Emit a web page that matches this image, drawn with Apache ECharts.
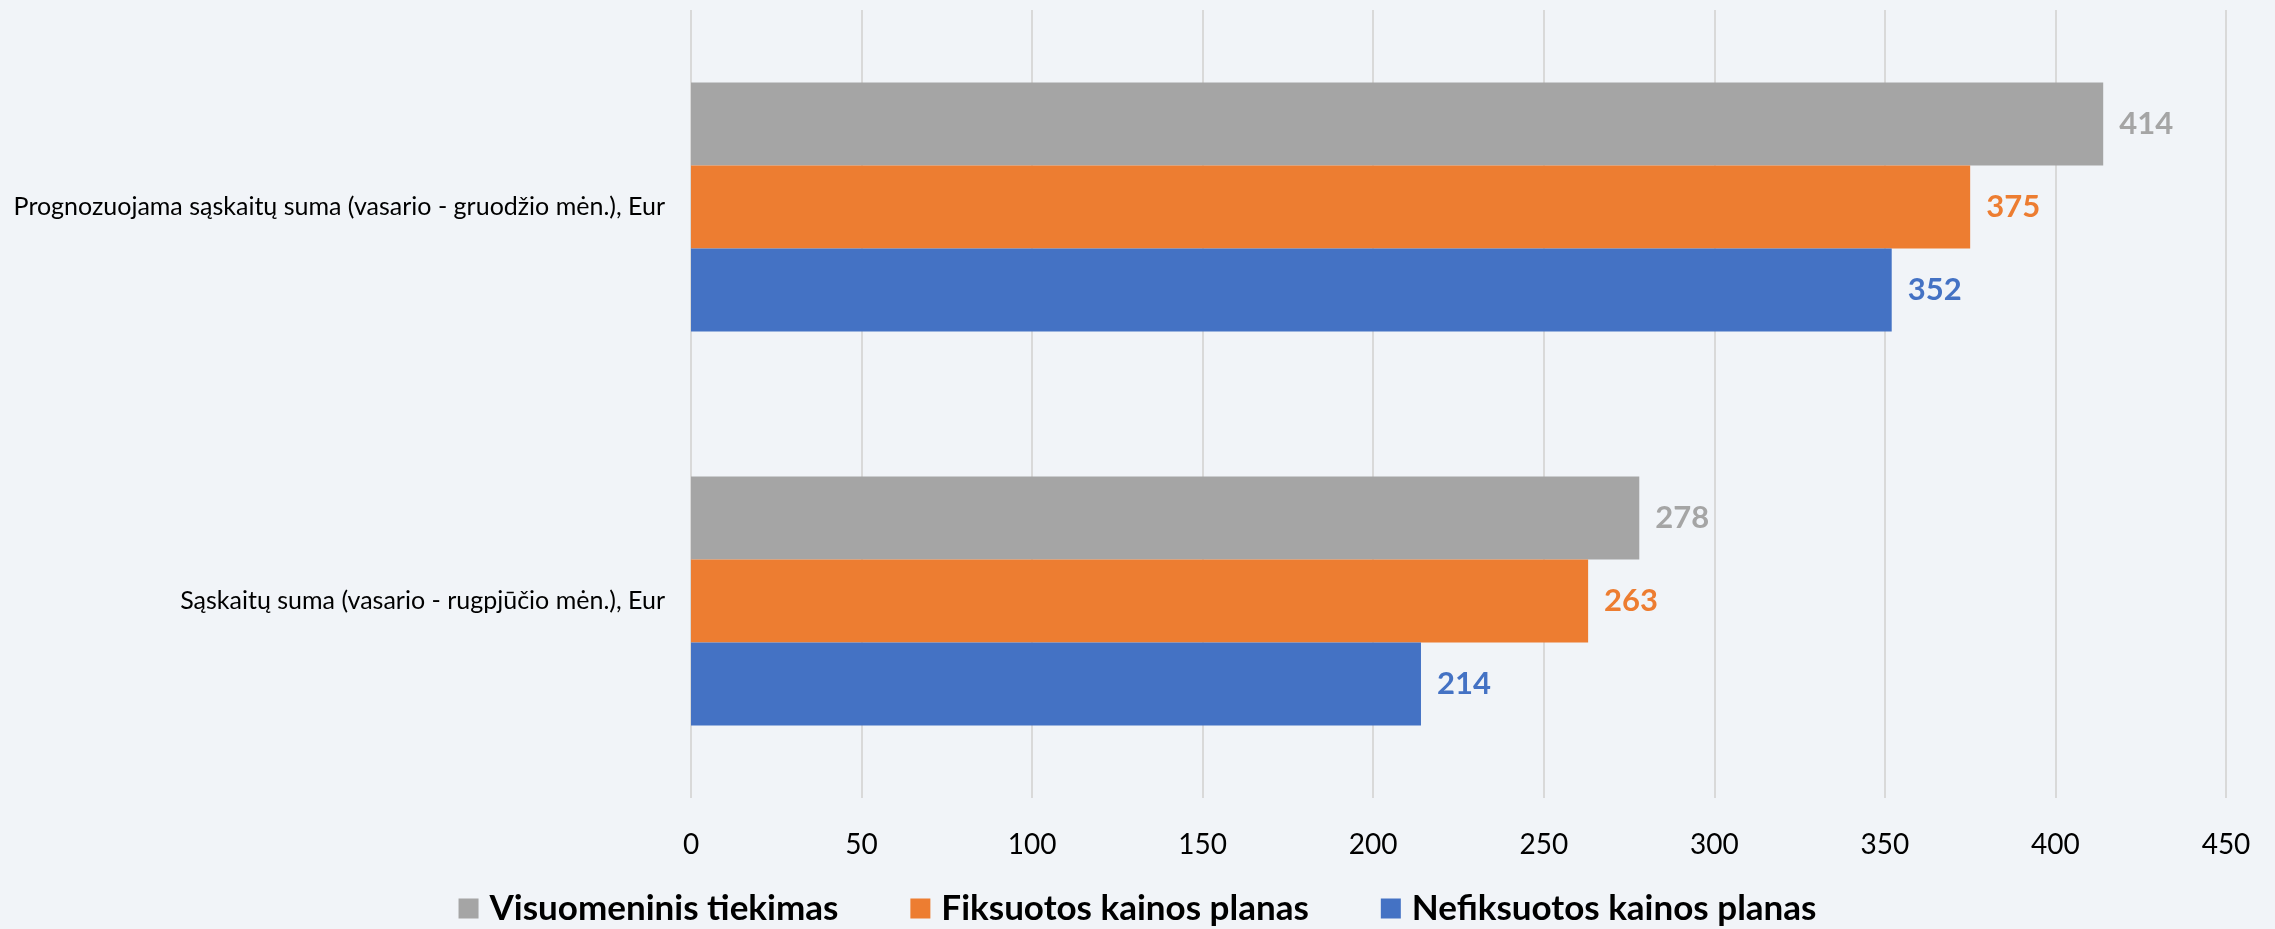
<!DOCTYPE html>
<html>
<head>
<meta charset="utf-8">
<script src="https://cdn.jsdelivr.net/npm/echarts@6/dist/echarts.min.js"></script>
<style>
html,body{margin:0;padding:0;background:#F1F4F8;}
#chart{width:2275px;height:929px;}
</style>
</head>
<body>
<div id="chart"></div>
<script>
const categories = [
  "Prognozuojama sąskaitų suma (vasario - gruodžio mėn.), Eur",
  "Sąskaitų suma (vasario - rugpjūčio mėn.), Eur"
];
const seriesNames = ["Visuomeninis tiekimas", "Fiksuotos kainos planas", "Nefiksuotos kainos planas"];
const visuomeninis = [414, 278];
const fiksuotos = [375, 263];
const nefiksuotos = [352, 214];
const xTicks = { min: 0, max: 450, interval: 50 };
const colors = ["#A5A5A5", "#ED7D31", "#4472C4"];

const FONT = "Lato";
const values = [visuomeninis, fiksuotos, nefiksuotos];

const chart = echarts.init(document.getElementById('chart'));
chart.setOption({
  backgroundColor: "#F1F4F8",
  animation: false,
  textStyle: { fontFamily: FONT },
  grid: { left: 691, right: 49, top: 10, bottom: 131 },
  legend: {
    data: seriesNames,
    bottom: -2,
    left: 'center',
    itemWidth: 20,
    itemHeight: 20,
    itemGap: 72,
    icon: 'rect',
    textStyle: { fontFamily: FONT, fontSize: 35, fontWeight: 'bold', color: '#000', padding: [0, 0, 0, 6] }
  },
  xAxis: {
    type: 'value',
    min: xTicks.min, max: xTicks.max, interval: xTicks.interval,
    axisLine: { show: false },
    axisTick: { show: false },
    splitLine: { show: true, lineStyle: { color: '#D9D9D9', width: 2 } },
    axisLabel: { fontFamily: FONT, fontSize: 28, color: '#000', margin: 33 }
  },
  yAxis: {
    type: 'category',
    inverse: true,
    data: categories,
    axisLine: { show: false },
    axisTick: { show: false },
    axisLabel: { fontFamily: FONT, fontSize: 25, color: '#000', margin: 26 }
  },
  series: seriesNames.map((name, i) => ({
    name: name,
    type: 'bar',
    data: values[i],
    barWidth: 83,
    barGap: '0%',
    itemStyle: { color: colors[i] },
    label: {
      show: true,
      position: 'right',
      distance: 16,
      fontFamily: FONT,
      fontSize: 31,
      fontWeight: 'bold',
      color: colors[i]
    }
  }))
});
</script>
</body>
</html>
